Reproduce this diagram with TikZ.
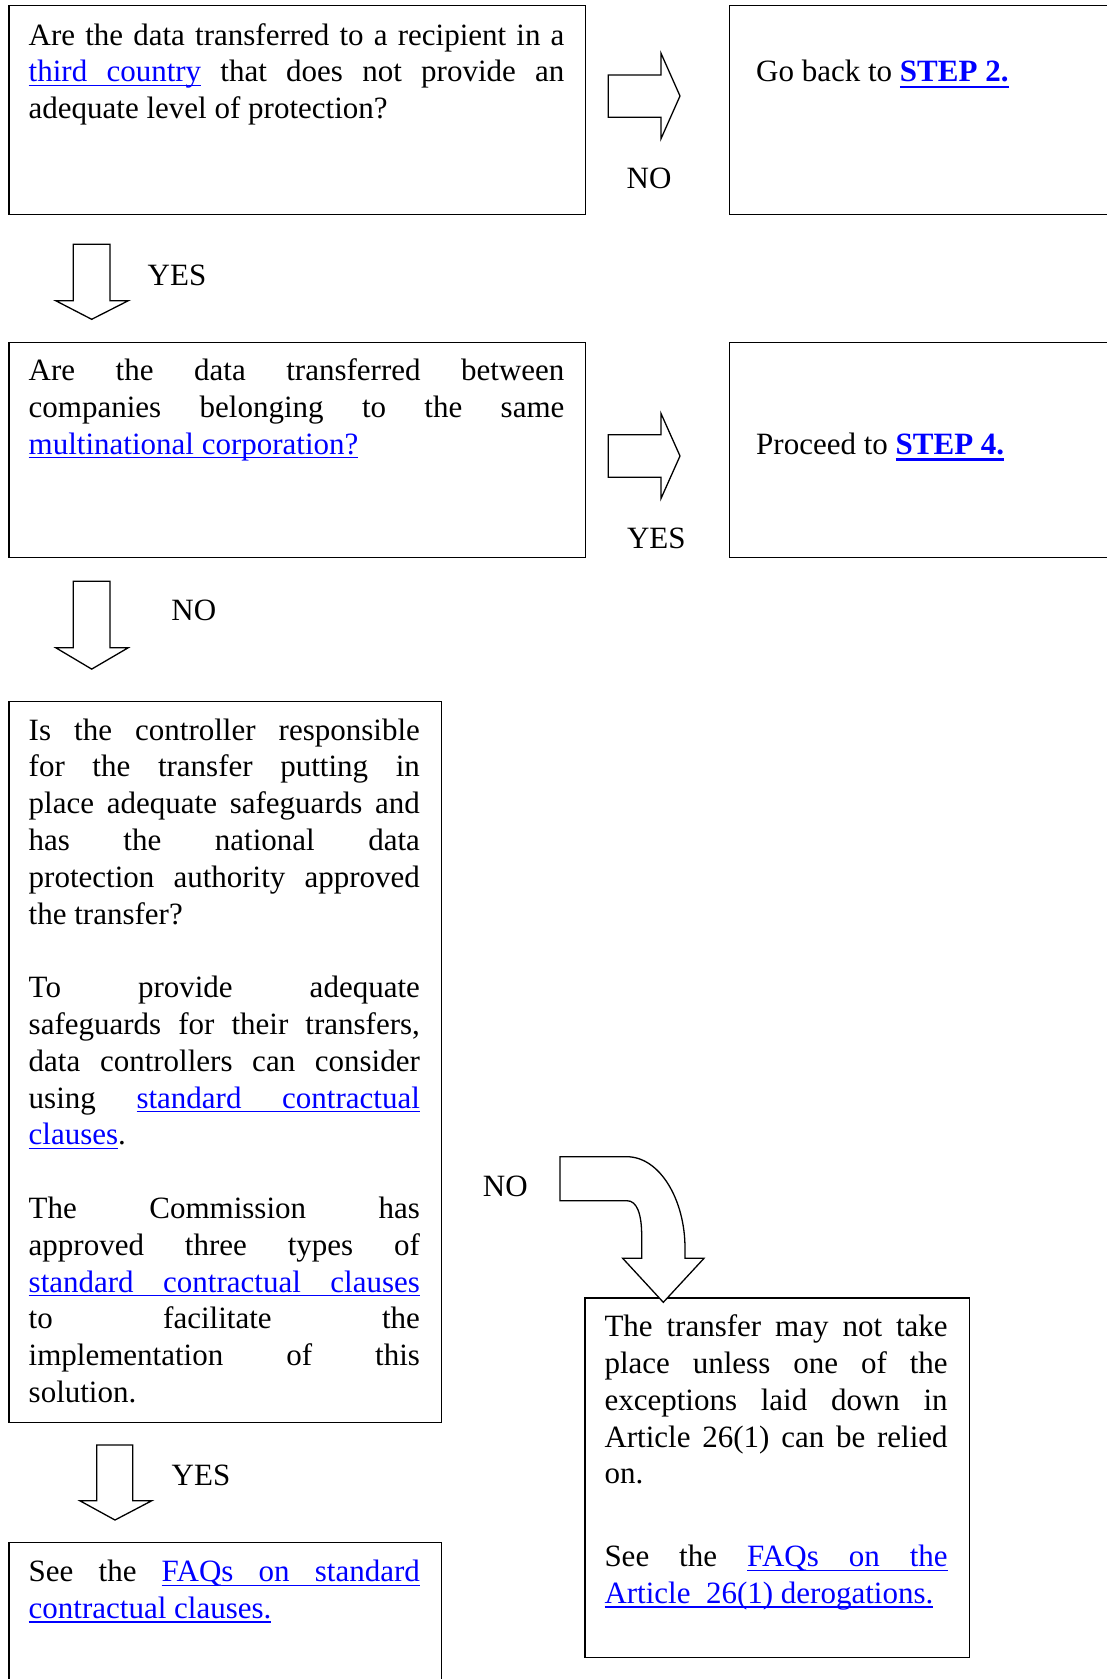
\documentclass[tikz,border=0pt]{standalone}
\usepackage{fontspec}
\setmainfont{Liberation Serif}
\usepackage{xcolor}
\definecolor{linkblue}{RGB}{0,0,255}
\newdimen\uldp \uldp=4.3pt
\newdimen\ulth \ulth=1.4pt
\newcommand{\ulw}[1]{\leavevmode\setbox0=\hbox{#1}\rlap{\rule[-\uldp]{\wd0}{\ulth}}\box0}
\newcommand{\uls}{\leaders\hrule height\dimexpr\ulth-\uldp\relax depth\uldp\hskip\fontdimen2\font plus\fontdimen3\font minus\fontdimen4\font\relax}
\newcommand{\lk}[1]{{\color{linkblue}#1}}
\newcommand{\lkb}[1]{{\color{linkblue}\bfseries\uldp=6.5pt\ulth=2.7pt #1}}
\tolerance=10000
\hbadness=10000
\begin{document}
\begin{tikzpicture}[x=1pt,y=-1pt,
  every node/.style={font=\fontsize{31pt}{36.8pt}\selectfont},
  box/.style={draw=black,line width=1.4pt,anchor=north west,inner sep=0pt},
  blockarrow/.style={draw=black,fill=white,line width=1.3pt,line join=miter},
  lbl/.style={anchor=base,inner sep=0pt},
  txt/.style={anchor=base west,inner sep=0pt}]
\useasboundingbox (0,0) rectangle (1107,1679);
\clip (0,0) rectangle (1107,1679);

% boxes
\node[box,minimum width=576.2pt,minimum height=209pt] (q1) at (8.3,5) {};
\node[box,minimum width=400pt,minimum height=209pt] (r1) at (728.6,5) {};
\node[box,minimum width=576.2pt,minimum height=215pt] (q2) at (8.3,341.7) {};
\node[box,minimum width=400pt,minimum height=215pt] (r2) at (728.6,341.7) {};
\node[box,minimum width=432.4pt,minimum height=721pt] (q3) at (8.3,700.7) {};
\node[box,minimum width=384.5pt,minimum height=359.5pt] (r3) at (584.4,1297.3) {};
\node[box,minimum width=432.4pt,minimum height=200pt] (s3) at (8.3,1541.7) {};

% texts
\node[txt] (q1t) at (28.5,45) {\parbox[t]{535.7pt}{Are the data transferred to a recipient in a\linebreak
\lk{\ulw{third}\uls\ulw{country}} that does not provide an\linebreak
adequate level of protection?}};
\node[txt] (r1t) at (756,81.7) {Go back to \lkb{\ulw{STEP}\uls\ulw{2.}}};
\node[txt] (q2t) at (28.5,380.5) {\parbox[t]{535.7pt}{Are the data transferred between\linebreak
companies belonging to the same\linebreak
\lk{\ulw{multinational}\uls\ulw{corporation?}}}};
\node[txt] (r2t) at (756,454.3) {Proceed to \lkb{\ulw{STEP}\uls\ulw{4.}}};
\node[txt] (q3t) at (28.5,740) {\parbox[t]{391.2pt}{Is the controller responsible\linebreak
for the transfer putting in\linebreak
place adequate safeguards and\linebreak
has the national data\linebreak
protection authority approved\linebreak
the transfer?\par\vskip36.8pt
To provide adequate\linebreak
safeguards for their transfers,\linebreak
data controllers can consider\linebreak
using \lk{\ulw{standard}\uls\ulw{contractual}}\linebreak
\lk{\ulw{clauses}}.\par\vskip36.8pt
The Commission has\linebreak
approved three types of\linebreak
\lk{\ulw{standard}\uls\ulw{contractual}\uls\ulw{clauses}}\linebreak
to facilitate the\linebreak
implementation of this\linebreak
solution.}};
\node[txt] (r3t) at (604.3,1336.7) {\parbox[t]{343.2pt}{The transfer may not take\linebreak
place unless one of the\linebreak
exceptions laid down in\linebreak
Article 26(1) can be relied\linebreak
on.\par\vskip45.9pt
See the \lk{\ulw{FAQs}\uls\ulw{on}\uls\ulw{the}}\linebreak
\lk{\ulw{Article}\uls\uls\ulw{26(1)}\uls\ulw{derogations.}}}};
\node[txt] (s3t) at (28.5,1581.7) {\parbox[t]{391.2pt}{See the \lk{\ulw{FAQs}\uls\ulw{on}\uls\ulw{standard}}\linebreak
\lk{\ulw{contractual}\uls\ulw{clauses.}}}};

% block arrows
\draw[blockarrow] (608.3,75) -- (661,75) -- (661,53.3) -- (680,96) -- (661,138.7) -- (661,117.3) -- (608.3,117.3) -- cycle;
\draw[blockarrow] (608.3,434.8) -- (661,434.8) -- (661,413.5) -- (680,456) -- (661,498.5) -- (661,477.2) -- (608.3,477.2) -- cycle;
\draw[blockarrow] (73.3,244.3) -- (110,244.3) -- (110,300.7) -- (128.3,300.7) -- (91.7,319.3) -- (55.7,300.7) -- (73.3,300.7) -- cycle;
\draw[blockarrow] (73.3,581.3) -- (110,581.3) -- (110,647.7) -- (128.3,647.7) -- (91.7,669.1) -- (55.7,647.7) -- (73.3,647.7) -- cycle;
\draw[blockarrow] (96.7,1445) -- (132.8,1445) -- (132.8,1500.7) -- (151.8,1500.7) -- (115,1520) -- (79.8,1500.7) -- (96.7,1500.7) -- cycle;
\draw[blockarrow] (560,1156.7) -- (626.7,1156.7) .. controls (660,1156.7) and (685,1200) .. (685,1248) -- (685,1258.3) -- (704,1258.3) -- (663.3,1302.3) -- (622.7,1258.3) -- (641.7,1258.3) -- (641.7,1236) .. controls (641.7,1214) and (637,1200.7) .. (627,1200.7) -- (560,1200.7) -- cycle;

% labels
\node[lbl] (l1) at (649,188.5) {NO};
\node[lbl] (l2) at (177,285) {YES};
\node[lbl] (l3) at (656.3,548.5) {YES};
\node[lbl] (l4) at (193.8,620) {NO};
\node[lbl] (l5) at (505.3,1196) {NO};
\node[lbl] (l6) at (201,1485) {YES};
\end{tikzpicture}
\end{document}
